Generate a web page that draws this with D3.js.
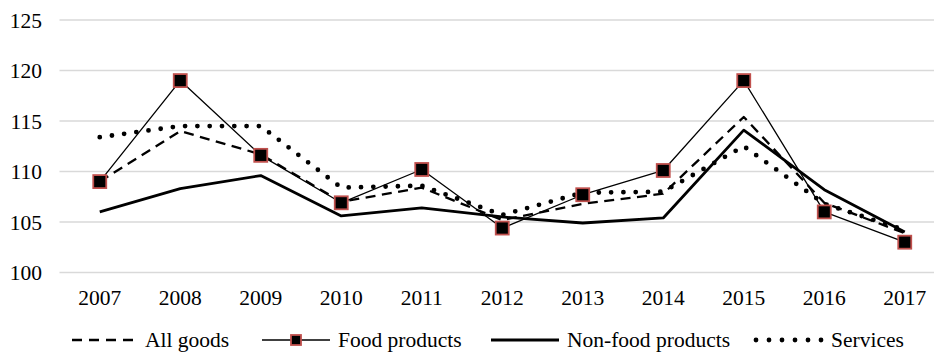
<!DOCTYPE html>
<html>
<head>
<meta charset="utf-8">
<script src="https://cdn.jsdelivr.net/npm/d3@7"></script>
<style>
  body { margin: 0; background: #fff; font-family: 'Liberation Serif', 'DejaVu Serif', serif; }
  #chart { display: block; font-family: 'Liberation Serif', 'DejaVu Serif', serif; }
  #chart text { font-family: 'Liberation Serif', 'DejaVu Serif', serif !important; font-size: 21.5px !important; }
</style>
</head>
<body>
<svg id="chart" width="934" height="356"></svg>
<script>
// Price indices by year (previous year = 100)
const years = ["2007", "2008", "2009", "2010", "2011", "2012", "2013", "2014", "2015", "2016", "2017"];
const allGoods = [109.0, 114.0, 111.7, 107.0, 108.4, 105.2, 106.8, 107.8, 115.4, 106.9, 103.9];
const foodProducts = [109.0, 119.0, 111.6, 106.9, 110.2, 104.4, 107.7, 110.1, 119.0, 106.0, 103.0];
const nonFoodProducts = [106.0, 108.3, 109.6, 105.6, 106.4, 105.5, 104.9, 105.4, 114.1, 108.2, 104.0];
const services = [113.4, 114.5, 114.5, 108.4, 108.6, 105.7, 107.9, 108.0, 112.5, 106.8, 104.2];
const yTicks = [100, 105, 110, 115, 120, 125];

const svg = d3.select("#chart");

const x = d3.scaleBand().domain(years).range([59.5, 945]);
const y = d3.scaleLinear().domain([100, 125]).range([272.5, 20]);
const cx = d => x(d) + x.bandwidth() / 2;

// Drop the axis generator's default sans-serif so the page font applies
const clearFont = sel => sel.attr("font-family", null).attr("font-size", null);

// Horizontal gridlines
svg.append("g")
  .selectAll("line")
  .data(yTicks)
  .join("line")
  .attr("x1", 59.5).attr("x2", 945)
  .attr("y1", d => y(d)).attr("y2", d => y(d))
  .attr("stroke", "#d9d9d9")
  .attr("stroke-width", 1.4);

// Y axis labels
const yAxis = d3.axisLeft(y).tickValues(yTicks).tickSize(0).tickPadding(0);
svg.append("g")
  .attr("transform", "translate(42,0)")
  .call(yAxis)
  .call(clearFont)
  .call(g => g.select(".domain").remove())
  .call(g => g.selectAll("text").attr("fill", "#000").attr("dy", "0.34em"));

// X axis labels
const xAxis = d3.axisBottom(x).tickSize(0).tickPadding(0);
svg.append("g")
  .attr("transform", "translate(0,288)")
  .call(xAxis)
  .call(clearFont)
  .call(g => g.select(".domain").remove())
  .call(g => g.selectAll("text").attr("fill", "#000").attr("dy", "0.8em"));

const line = d3.line()
  .x((d, i) => cx(years[i]))
  .y(d => y(d));

const styles = {
  "All goods":         { width: 2.3, dash: "10,6.5", cap: "butt" },
  "Food products":     { width: 1.3, dash: null, cap: "butt" },
  "Non-food products": { width: 2.8, dash: null, cap: "butt" },
  "Services":          { width: 4.8, dash: "0,12.3", cap: "round" }
};
const seriesData = {
  "All goods": allGoods,
  "Food products": foodProducts,
  "Non-food products": nonFoodProducts,
  "Services": services
};

const drawOrder = ["Non-food products", "All goods", "Food products", "Services"];
drawOrder.forEach(name => {
  const s = styles[name];
  svg.append("path")
    .datum(seriesData[name])
    .attr("d", line)
    .attr("fill", "none")
    .attr("stroke", "#000")
    .attr("stroke-width", s.width)
    .attr("stroke-linecap", s.cap)
    .attr("stroke-linejoin", "round")
    .attr("stroke-dasharray", s.dash);
});

// Square markers on the food series
const mk = 13;
svg.append("g")
  .selectAll("rect")
  .data(foodProducts)
  .join("rect")
  .attr("x", (d, i) => cx(years[i]) - mk / 2)
  .attr("y", d => y(d) - mk / 2)
  .attr("width", mk).attr("height", mk)
  .attr("fill", "#000")
  .attr("stroke", "#c0504d")
  .attr("stroke-width", 1.8);

// Legend
const legendY = 340;
const legendItems = [
  { name: "All goods", x0: 72, x1: 137, dash: "10,7" },
  { name: "Food products", x0: 262, x1: 330, dash: null },
  { name: "Non-food products", x0: 491, x1: 559, dash: null },
  { name: "Services", x0: 756, x1: 822, dash: "0,13" }
];
const legend = svg.append("g");
legendItems.forEach(it => {
  const s = styles[it.name];
  legend.append("line")
    .attr("x1", it.x0).attr("x2", it.x1)
    .attr("y1", legendY).attr("y2", legendY)
    .attr("stroke", "#000")
    .attr("stroke-width", s.width)
    .attr("stroke-linecap", s.cap)
    .attr("stroke-dasharray", it.dash);
  if (it.name === "Food products") {
    const m = 10;
    legend.append("rect")
      .attr("x", (it.x0 + it.x1) / 2 - m / 2)
      .attr("y", legendY - m / 2)
      .attr("width", m).attr("height", m)
      .attr("fill", "#000")
      .attr("stroke", "#c0504d")
      .attr("stroke-width", 1.8);
  }
  legend.append("text")
    .attr("x", it.x1 + (it.name === "Services" ? 9 : 8))
    .attr("y", legendY + 6.5)
    .attr("fill", "#000")
    .text(it.name);
});
</script>
</body>
</html>
